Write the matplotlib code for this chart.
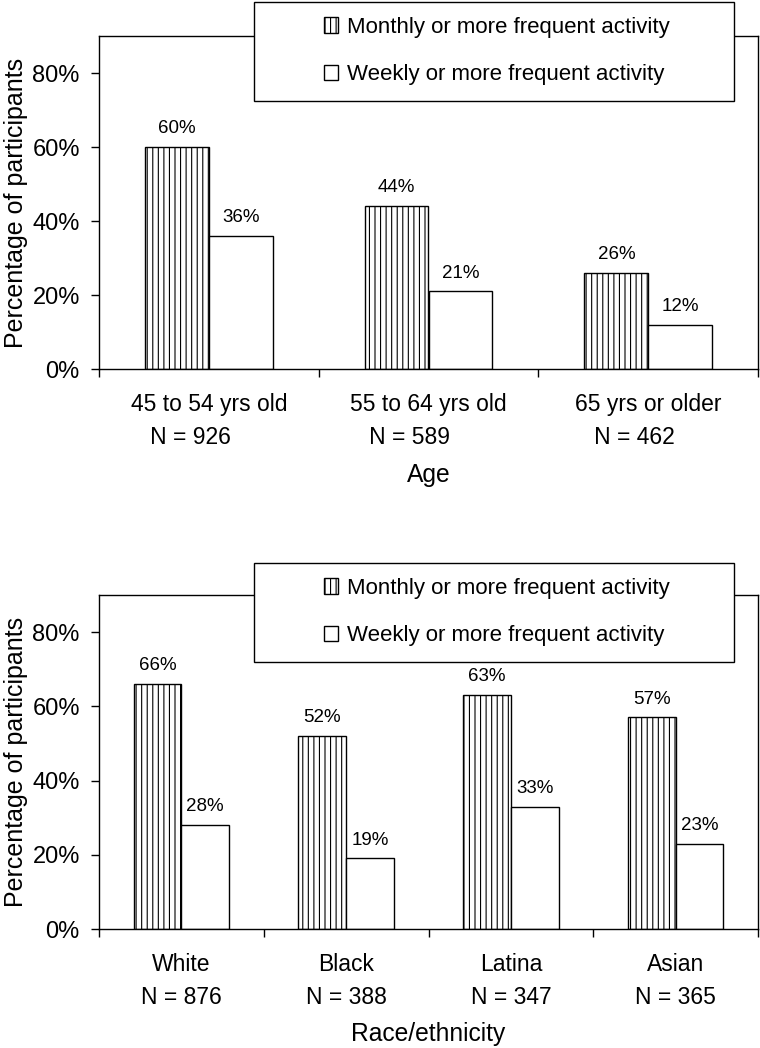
import numpy as np
import matplotlib
matplotlib.use("Agg")
import matplotlib.pyplot as plt
from matplotlib.patches import Rectangle

plt.rcParams['font.family'] = ['Liberation Sans', 'DejaVu Sans']
plt.rcParams['hatch.linewidth'] = 0.8

# data
series_names = ["Monthly or more frequent activity", "Weekly or more frequent activity"]

age_groups = ["45 to 54 yrs old", "55 to 64 yrs old", "65 yrs or older"]
age_n = [926, 589, 462]
age_monthly = [60, 44, 26]
age_weekly = [36, 21, 12]

race_groups = ["White", "Black", "Latina", "Asian"]
race_n = [876, 388, 347, 365]
race_monthly = [66, 52, 63, 57]
race_weekly = [28, 19, 33, 23]

yticks = [0, 20, 40, 60, 80]

W, H = 760, 1048
fig = plt.figure(figsize=(W / 100, H / 100), dpi=100)


def panel(ax, labels, monthly, weekly, xlabel, multialign):
    x = np.arange(len(labels))
    bw = 0.29
    b1 = ax.bar(x - bw / 2, monthly, bw, color="white", edgecolor="black",
                linewidth=1, hatch="|||", label=series_names[0])
    b2 = ax.bar(x + bw / 2, weekly, bw, color="white", edgecolor="black",
                linewidth=1, label=series_names[1])
    for xi, v in zip(x - bw / 2, monthly):
        ax.annotate(f"{v}%", (xi, v), xytext=(0, 7), textcoords="offset points",
                    ha="center", va="bottom", fontsize=13.5)
    for xi, v in zip(x + bw / 2, weekly):
        ax.annotate(f"{v}%", (xi, v), xytext=(0, 7), textcoords="offset points",
                    ha="center", va="bottom", fontsize=13.5)

    ax.set_xlim(-0.5, len(labels) - 0.5)
    ax.set_ylim(0, 90)
    ax.set_yticks(yticks)
    ax.set_yticklabels([f"{t}%" for t in yticks], fontsize=17)
    ax.tick_params(axis="y", direction="out", length=5.8, width=1, pad=8)

    ax.set_xticks(x)
    ax.set_xticklabels(labels, fontsize=16.5, multialignment=multialign, linespacing=1.6)
    ax.set_xticks(np.arange(len(labels) + 1) - 0.5, minor=True)
    ax.tick_params(axis="x", which="major", length=0, pad=17)
    ax.tick_params(axis="x", which="minor", direction="out", length=5.8, width=1)

    for s in ax.spines.values():
        s.set_linewidth(1)
        s.set_color("black")

    ax.set_ylabel("Percentage of participants", fontsize=18)
    ax.yaxis.set_label_coords(-0.108, 0.5)
    ax.set_xlabel(xlabel, fontsize=17.7)
    ax.xaxis.label.set_va("center")
    return b1, b2


def legend_box(handles, top_px):
    fig.add_artist(Rectangle((254 / W, 1 - (top_px + 100) / H), 480 / W, 99 / H,
                             transform=fig.transFigure, facecolor="white",
                             edgecolor="black", linewidth=1, zorder=3))
    fig.legend(handles, series_names, loc="center",
               bbox_to_anchor=(497 / W, 1 - (top_px + 50) / H),
               frameon=False, fontsize=16, handlelength=0.65, handleheight=0.7,
               handletextpad=0.4, labelspacing=1.2, borderpad=0)


ax1 = fig.add_axes([99 / W, 1 - 369 / H, 659 / W, 333 / H])
age_labels = [f"{g}\n   N = {n}" for g, n in zip(age_groups, age_n)]
h1 = panel(ax1, age_labels, age_monthly, age_weekly, "Age", "left")
ax1.xaxis.set_label_coords(0.5, -0.318)
legend_box(h1, 1)

ax2 = fig.add_axes([99 / W, 1 - 929 / H, 659 / W, 334 / H])
race_labels = [f"{g}\nN = {n}" for g, n in zip(race_groups, race_n)]
h2 = panel(ax2, race_labels, race_monthly, race_weekly, "Race/ethnicity", "center")
ax2.xaxis.set_label_coords(0.5, -0.314)
legend_box(h2, 562)

fig.savefig("out.png", dpi=100)
